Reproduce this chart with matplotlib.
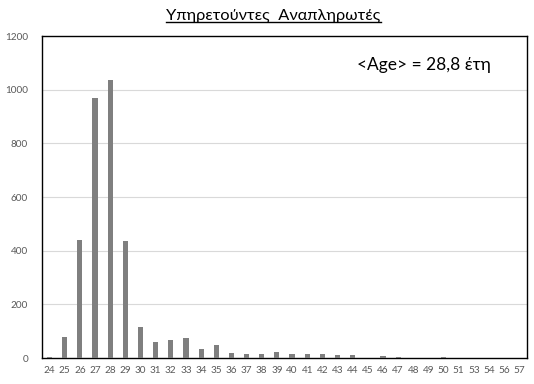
import matplotlib
matplotlib.use("Agg")
import matplotlib.pyplot as plt
import numpy as np

ages = ["24", "25", "26", "27", "28", "29", "30", "31", "32", "33", "34", "35",
        "36", "37", "38", "39", "40", "41", "42", "43", "44", "45", "46", "47",
        "48", "49", "50", "51", "53", "54", "56", "57"]
counts = [4, 80, 441, 968, 1036, 437, 116, 60, 68, 76, 35, 50,
          20, 14, 14, 24, 14, 16, 15, 11, 11, 0, 9, 4,
          0, 0, 4, 1, 1, 0, 1, 1]

title = "Υπηρετούντες  Αναπληρωτές"
note = "<Age> = 28,8 έτη"

plt.rcParams['font.family'] = ['Lato', 'DejaVu Sans']

fig = plt.figure(figsize=(5.34, 3.84), dpi=100)
ax = fig.add_axes([0.0787, 0.0677, 0.908, 0.838])

x = np.arange(len(ages))
ax.bar(x, counts, width=0.34, color="#7f7f7f", zorder=3)

ax.set_xlim(-0.5, len(ages) - 0.5)
ax.set_ylim(0, 1200)
ax.set_yticks(np.arange(0, 1201, 200))
ax.set_xticks(x)
ax.set_xticklabels(ages)
ax.tick_params(axis='both', length=0, labelsize=7.2, colors="#595959")
ax.tick_params(axis='y', pad=10)
ax.tick_params(axis='x', pad=6)
for yv in range(200, 1200, 200):
    ax.axhline(yv, color="#d9d9d9", linewidth=0.8, zorder=1)
for s in ax.spines.values():
    s.set_color("black")
    s.set_linewidth(1.0)

t = fig.text(0.512, 0.958, title, ha='center', va='center', fontsize=11.8, color='black')
ax.text(0.788, 0.91, note, transform=ax.transAxes, ha='center', va='center', fontsize=12.5, color='black')

fig.canvas.draw()
bb = t.get_window_extent(renderer=fig.canvas.get_renderer())
inv = fig.transFigure.inverted()
(x0, y0), (x1, y1) = inv.transform([(bb.x0, bb.y0), (bb.x1, bb.y1)])
fig.add_artist(plt.Line2D([x0, x1], [y0 + 0.004, y0 + 0.004], transform=fig.transFigure, color='black', linewidth=1.0))

fig.savefig("out.png", dpi=100)
